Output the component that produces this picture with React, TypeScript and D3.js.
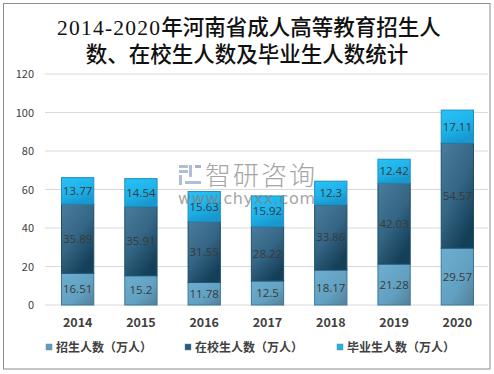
import React from "react";
import * as d3 from "d3";

const categories = ["2014", "2015", "2016", "2017", "2018", "2019", "2020"];
const enroll = [16.51, 15.2, 11.78, 12.5, 18.17, 21.28, 29.57];
const inSchool = [35.89, 35.91, 31.55, 28.22, 33.86, 42.03, 54.57];
const graduates = [13.77, 14.54, 15.63, 15.92, 12.3, 12.42, 17.11];
const seriesNames = ["招生人数（万人）", "在校生人数（万人）", "毕业生人数（万人）"];
const yTicks = [0, 20, 40, 60, 80, 100, 120];
const titleYears = "2014-2020";
const titleLine1 = "年河南省成人高等教育招生人";
const titleLine2 = "数、在校生人数及毕业生人数统计";

const W = 494;
const H = 374;

export default function App() {
  const x = d3.scaleBand<string>().domain(categories).range([46, 489]).paddingInner(0.49).paddingOuter(0.245);
  const y = d3.scaleLinear().domain([0, 120]).range([305, 74]);
  const seriesData = [enroll, inSchool, graduates];
  const stackInput = categories.map((c, i) => ({ c, s0: enroll[i], s1: inSchool[i], s2: graduates[i] }));
  const stacked = d3.stack<any>().keys(["s0", "s1", "s2"])(stackInput);
  const fills = ["url(#g0)", "url(#g1)", "url(#g2)"];
  const strokes = ["#3b7797", "#1d4f6c", "#1d8fc2"];
  const legendX = [46, 185, 337];
  const legendColors = ["#5f9cbd", "#2b5a78", "#1fb0e6"];
  const font = "'Noto Sans CJK SC', 'Noto Sans', sans-serif";
  const titleFont = "'Liberation Serif', 'Noto Sans CJK SC', serif";

  return (
    <svg width={W} height={H} style={{ position: "absolute", left: 0, top: 0, background: "#fff" }}>
      <defs>
        <linearGradient id="g0" x1="0" y1="0" x2="1" y2="1">
          <stop offset="0" stopColor="#6daed0" />
          <stop offset="0.6" stopColor="#62a0c1" />
          <stop offset="1" stopColor="#537f99" />
        </linearGradient>
        <linearGradient id="g1" x1="0" y1="0" x2="0.6" y2="1">
          <stop offset="0" stopColor="#4a7c9d" />
          <stop offset="0.55" stopColor="#346584" />
          <stop offset="1" stopColor="#143f58" />
        </linearGradient>
        <linearGradient id="g2" x1="0" y1="0" x2="0.4" y2="1">
          <stop offset="0" stopColor="#29c2f5" />
          <stop offset="0.6" stopColor="#1eb2ea" />
          <stop offset="1" stopColor="#1799d0" />
        </linearGradient>
      </defs>
      <rect x={3.5} y={3.5} width={486.5} height={365.5} fill="#fff" stroke="#8c8c8c" strokeWidth={1} />
      <text x={57} y={35} fontSize={21.5} fill="#111" fontFamily={titleFont} fontWeight={500}>
        <tspan textLength={103} lengthAdjust="spacing">{titleYears}</tspan>
        <tspan>{titleLine1}</tspan>
      </text>
      <text x={247} y={62} textAnchor="middle" fontSize={21.5} fill="#111" fontFamily={titleFont} fontWeight={500}>
        {titleLine2}
      </text>
      {yTicks.map((t) => (
        <g key={t}>
          <line x1={45} x2={488} y1={y(t)} y2={y(t)} stroke="#d9d9d9" strokeWidth={1} />
          <text x={34} y={y(t) + 4} textAnchor="end" fontSize={11} fill="#404040" fontFamily={font}>{t}</text>
        </g>
      ))}
      {stacked.map((layer, si) => (
        <g key={si}>
          {layer.map((d: any, i: number) => (
            <g key={i}>
              <rect x={x(categories[i])!} y={y(d[1])} width={x.bandwidth()} height={y(d[0]) - y(d[1])}
                fill={fills[si]} stroke={strokes[si]} strokeWidth={1} />
              <text x={x(categories[i])! + x.bandwidth() / 2} y={(y(d[0]) + y(d[1])) / 2 + 4}
                textAnchor="middle" fontSize={11.5} fill="#3a3a3a" fontFamily="'Open Sans', 'Noto Sans', sans-serif">
                {seriesData[si][i]}
              </text>
            </g>
          ))}
        </g>
      ))}
      {categories.map((c) => (
        <text key={c} x={x(c)! + x.bandwidth() / 2} y={327} textAnchor="middle" fontSize={12.5}
          fontWeight="bold" fill="#404040" fontFamily={font}>{c}</text>
      ))}
      <g opacity={0.7}>
        <rect x={179} y={165} width={9} height={3} fill="#8fa3c6" />
        <rect x={179} y={170} width={9} height={3} fill="#8fa3c6" />
        <rect x={179} y={175} width={3} height={10} fill="#8fa3c6" />
        <rect x={189} y={165} width={3} height={12} fill="#8fa3c6" />
        <rect x={195} y={165} width={6} height={3} fill="#7f93b8" />
        <rect x={185} y={181} width={16} height={3} fill="#8fa3c6" />
        <text x={205} y={185} fontSize={26} fill="#808080" fontFamily={font} fontWeight={300} textLength={110}>智研咨询</text>
        <text x={178} y={204} fontSize={16} fill="#808080" fontFamily="'DejaVu Sans', sans-serif" textLength={137}>www.chyxx.com</text>
      </g>
      {seriesNames.map((n, i) => (
        <g key={n}>
          <rect x={legendX[i]} y={344} width={6} height={6} fill={legendColors[i]} stroke="#6e8ea0" strokeWidth={0.5} />
          <text x={legendX[i] + 10} y={351.5} fontSize={12} fontWeight={600} fill="#404040" fontFamily={font}>{n}</text>
        </g>
      ))}
    </svg>
  );
}
